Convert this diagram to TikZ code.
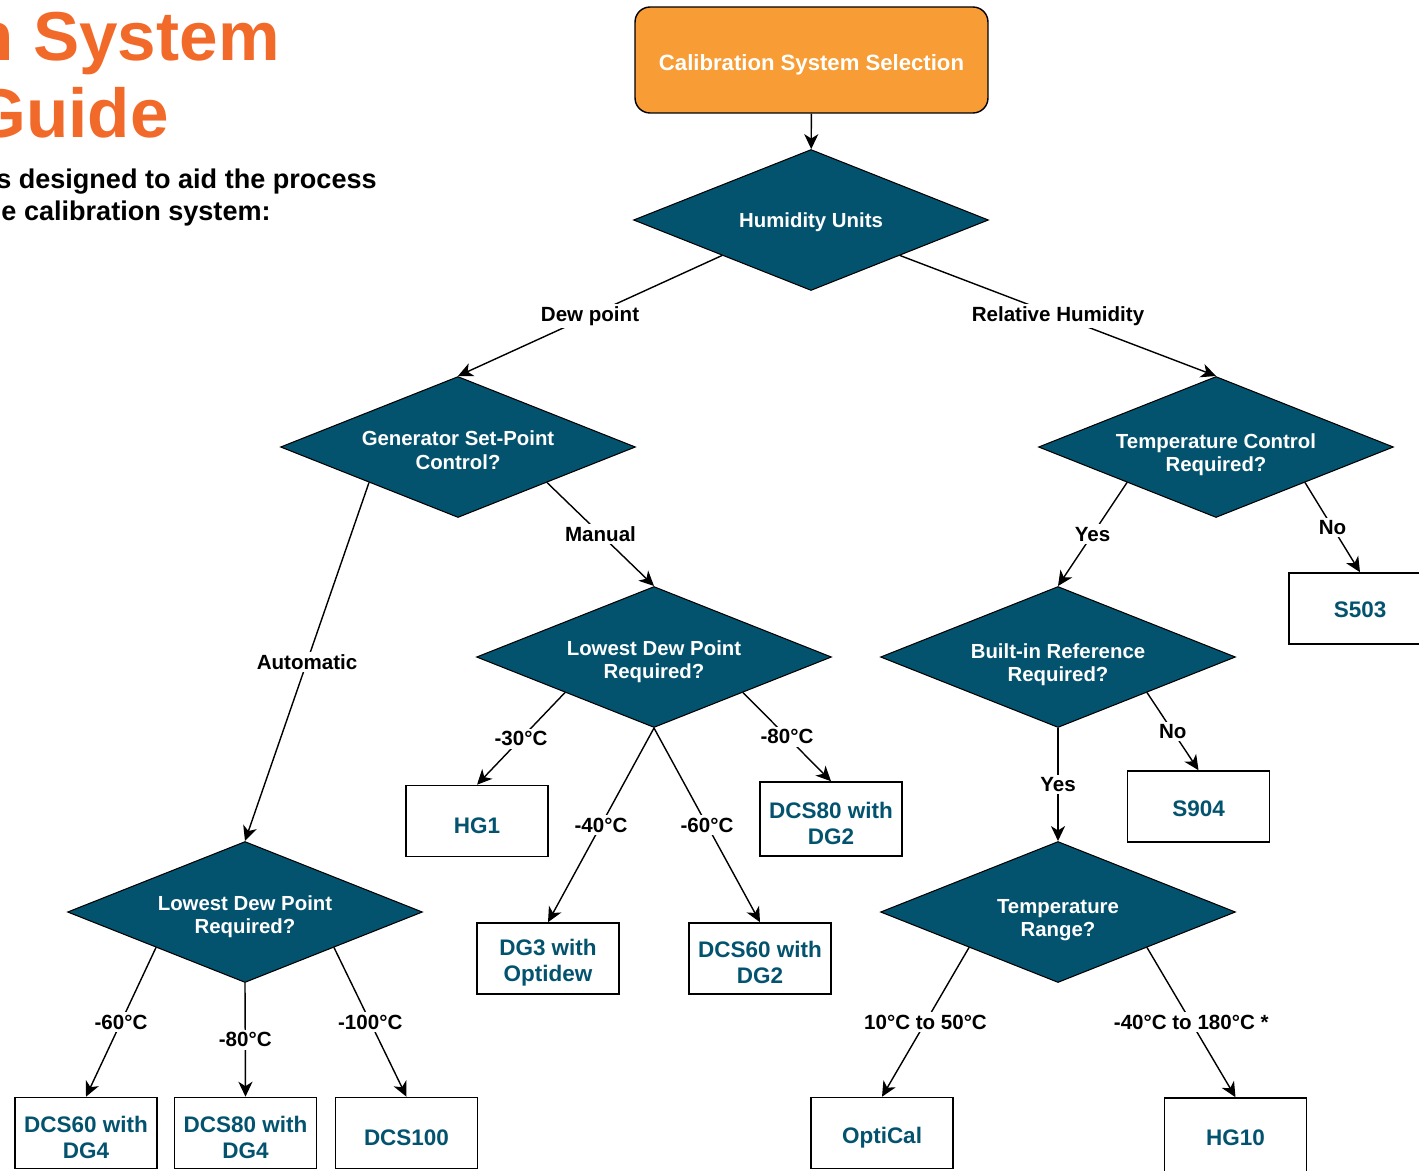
\documentclass[tikz,border=0pt]{standalone}
\usepackage{fontspec}
\setmainfont{Liberation Sans}
\usepackage{tikz}
\usetikzlibrary{shapes.geometric}
\usetikzlibrary{calc}
\usetikzlibrary{arrows.meta}
\definecolor{calorange}{HTML}{F89C35}
\definecolor{titleorange}{HTML}{F26A2A}
\definecolor{deepteal}{HTML}{03536F}

\begin{document}
\begin{tikzpicture}[x=0.02cm,y=-0.02cm,
        startbox/.style={rectangle,rounded corners=0.3cm,draw=black,line width=0.8pt,fill=calorange,text=white,minimum width=7.06cm,minimum height=2.12cm,text height=11.5pt,text depth=0pt,font=\fontsize{12.6}{14}\selectfont\bfseries},
        decision/.style={diamond,draw=black,line width=0.6pt,fill=deepteal,text=white,aspect=2.5,minimum width=7.1cm,minimum height=2.82cm,inner sep=0pt,align=center,text height=27.3pt,font=\fontsize{11.6}{13.2}\selectfont\bfseries},
        product/.style={rectangle,draw=black,line width=0.9pt,fill=white,text=deepteal,minimum width=2.84cm,minimum height=1.42cm,align=center,text height=14.3pt,font=\fontsize{12.8}{14.8}\selectfont\bfseries},
        pair/.style={text height=29.1pt},
        choice/.style={midway,fill=white,inner sep=1.5pt,text=black,font=\fontsize{11.7}{13}\selectfont\bfseries},
        flow/.style={draw=black,line width=0.8pt,-{Stealth[length=8.5pt,width=8pt,inset=2.5pt]}}]
    \useasboundingbox (0,0) rectangle (1419,1170);
    % heading, cut at the left edge
    \node[anchor=base east,inner sep=0,text=titleorange,font=\fontsize{39.4}{44}\selectfont\bfseries] (title1) at (280,60) {n System};
    \node[anchor=base east,inner sep=0,text=titleorange,font=\fontsize{39.4}{44}\selectfont\bfseries] (title2) at (169,137) {Guide};
    \node[anchor=base east,inner sep=0,font=\fontsize{15.4}{18}\selectfont\bfseries] (intro1) at (377,188) {s designed to aid the process};
    \node[anchor=base east,inner sep=0,font=\fontsize{15.4}{18}\selectfont\bfseries] (intro2) at (271,220) {e calibration system:};
    % questions
    \node[startbox] (start) at (811.5,60) {Calibration System Selection};
    \node[decision,text height={},text depth=0pt] (hum) at (811,220) {Humidity Units};
    \node[decision,text height=25.2pt] (gen) at (458,447) {Generator Set-Point\\Control?};
    \node[decision,text height=30.6pt] (tcr) at (1216,447) {Temperature Control\\Required?};
    \node[decision] (lowm) at (654,657) {Lowest Dew Point\\Required?};
    \node[decision,text height=30.6pt] (bir) at (1058,657) {Built-in Reference\\Required?};
    \node[decision] (lowa) at (245,912) {Lowest Dew Point\\Required?};
    \node[decision,text height=30.6pt] (trng) at (1058,912) {Temperature\\Range?};
    % systems
    \node[product,text height=10.9pt] (s503) at (1360,608.5) {S503};
    \node[product] (hg1) at (477,821) {HG1};
    \node[product,pair,minimum height=1.48cm] (dcs80b) at (831,819) {DCS80 with\\DG2};
    \node[product,text height=12pt] (s904) at (1198.5,806.5) {S904};
    \node[product,pair] (dg3) at (548,958.5) {DG3 with\\Optidew};
    \node[product,pair] (dcs60b) at (760,958.5) {DCS60 with\\DG2};
    \node[product,pair] (dcs60d) at (86,1133) {DCS60 with\\DG4};
    \node[product,pair] (dcs80d) at (245.5,1133) {DCS80 with\\DG4};
    \node[product] (dcs100) at (406.5,1133) {DCS100};
    \node[product] (optical) at (882,1133) {OptiCal};
    \node[product,text height=11.2pt,minimum height=1.52cm] (hg10) at (1235.5,1136) {HG10};
    % connectors
    \draw[flow] (start) -- (hum);
    \draw[flow] ($(hum.west)!0.5!(hum.south)$) -- node[choice] {Dew point} (gen.north);
    \draw[flow] ($(hum.east)!0.5!(hum.south)$) -- node[choice] {Relative Humidity} (tcr.north);
    \draw[flow] ($(gen.west)!0.5!(gen.south)$) -- node[choice] {Automatic} (lowa.north);
    \draw[flow] ($(gen.east)!0.5!(gen.south)$) -- node[choice] {Manual} (lowm.north);
    \draw[flow] ($(tcr.west)!0.5!(tcr.south)$) -- node[choice] {Yes} (bir.north);
    \draw[flow] ($(tcr.east)!0.5!(tcr.south)$) -- node[choice] {No} (s503.north);
    \draw[flow] ($(lowm.west)!0.5!(lowm.south)$) -- node[choice] {-30°C} (hg1.north);
    \draw[flow] ($(lowm.east)!0.5!(lowm.south)$) -- node[choice] {-80°C} (dcs80b.north);
    \draw[flow] (lowm.south) -- node[choice] {-40°C} (dg3.north);
    \draw[flow] (lowm.south) -- node[choice] {-60°C} (dcs60b.north);
    \draw[flow] ($(bir.east)!0.5!(bir.south)$) -- node[choice] {No} (s904.north);
    \draw[flow] (bir.south) -- node[choice] {Yes} (trng.north);
    \draw[flow] ($(lowa.west)!0.5!(lowa.south)$) -- node[choice] {-60°C} (dcs60d.north);
    \draw[flow] (lowa.south) -- node[choice] {-80°C} (dcs80d.north);
    \draw[flow] ($(lowa.east)!0.5!(lowa.south)$) -- node[choice] {-100°C} (dcs100.north);
    \draw[flow] ($(trng.west)!0.5!(trng.south)$) -- node[choice] {10°C to 50°C} (optical.north);
    \draw[flow] ($(trng.east)!0.5!(trng.south)$) -- node[choice] {-40°C to 180°C *} (hg10.north);
\end{tikzpicture}
\end{document}
